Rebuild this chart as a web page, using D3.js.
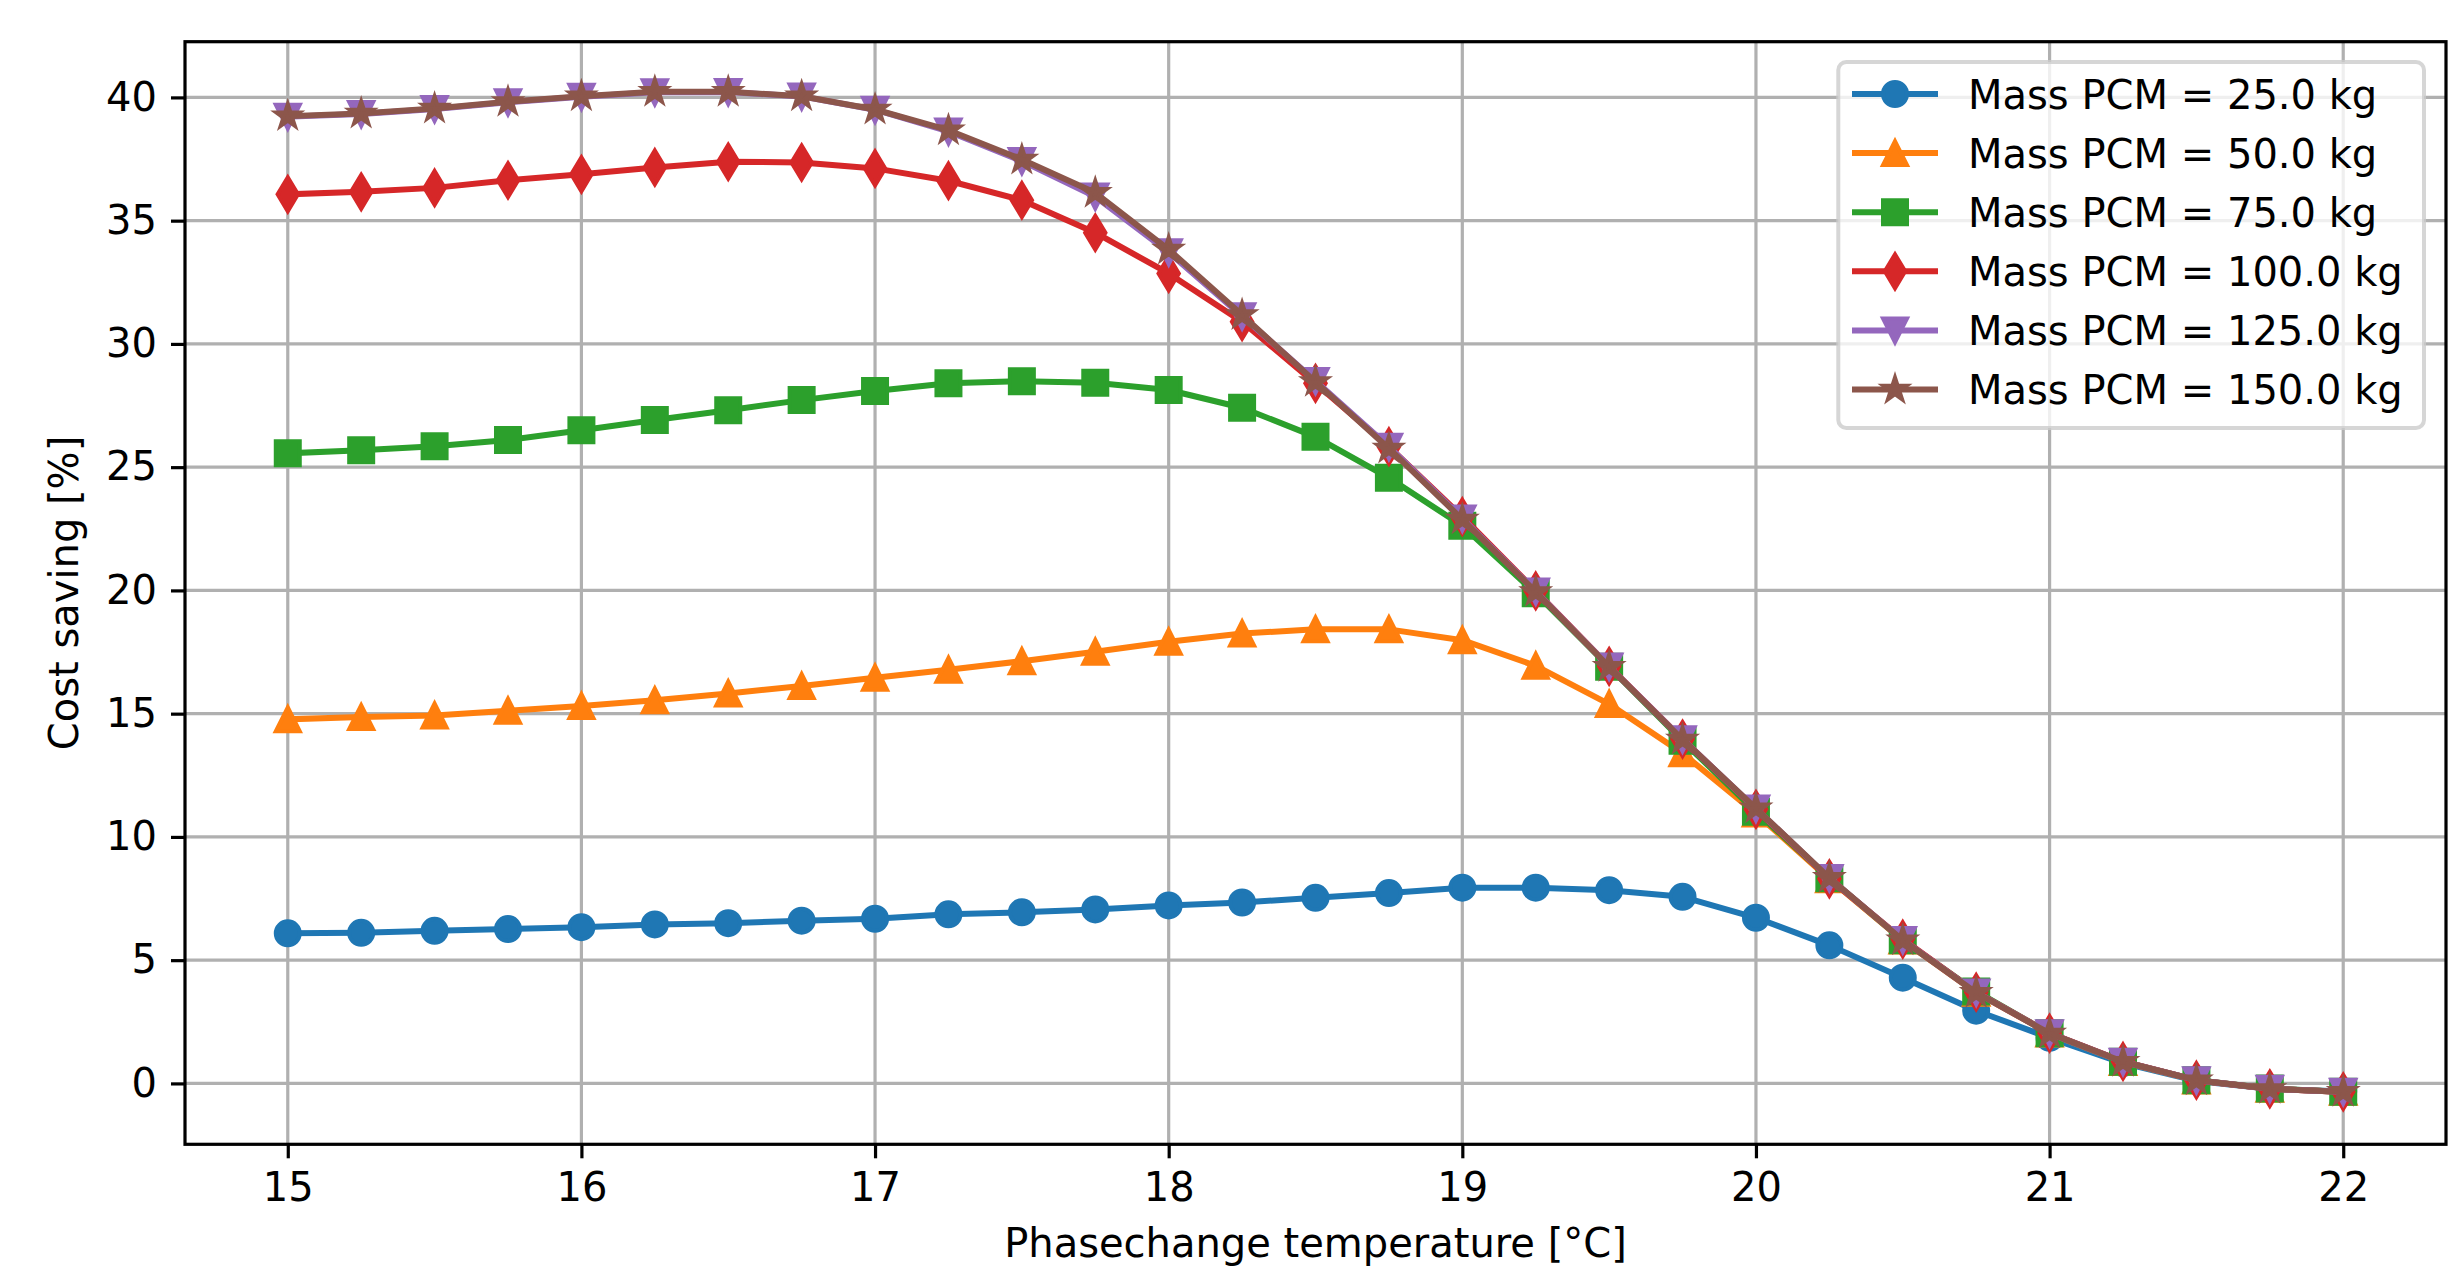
<!DOCTYPE html>
<html>
<head>
<meta charset="utf-8">
<script src="https://d3js.org/d3.v7.min.js"></script>
<style>
  body { margin: 0; background: #fff; }
  text { font-family: "DejaVu Sans", sans-serif; }
</style>
</head>
<body>
<div id="chart-area"></div>
<script>
// Data
var temps = [15, 15.25, 15.5, 15.75, 16, 16.25, 16.5, 16.75, 17, 17.25, 17.5, 17.75,
             18, 18.25, 18.5, 18.75, 19, 19.25, 19.5, 19.75, 20, 20.25, 20.5, 20.75,
             21, 21.25, 21.5, 21.75, 22];

var mass25  = [6.09, 6.11, 6.19, 6.26, 6.34, 6.45, 6.50, 6.60, 6.68, 6.86, 6.94, 7.06,
               7.22, 7.34, 7.53, 7.72, 7.94, 7.94, 7.84, 7.57, 6.72, 5.60, 4.29, 2.95,
               1.85, 0.82, 0.10, -0.22, -0.32];
var mass50  = [14.77, 14.86, 14.93, 15.12, 15.31, 15.54, 15.82, 16.12, 16.46, 16.78, 17.13, 17.51,
               17.92, 18.25, 18.42, 18.42, 17.98, 16.94, 15.39, 13.39, 10.95, 8.28, 5.80, 3.68,
               2.02, 0.87, 0.12, -0.22, -0.34];
var mass75  = [25.56, 25.69, 25.85, 26.10, 26.50, 26.91, 27.31, 27.72, 28.09, 28.40, 28.49, 28.42,
               28.13, 27.41, 26.23, 24.57, 22.62, 19.88, 16.90, 13.90, 11.02, 8.32, 5.81, 3.73,
               2.03, 0.88, 0.13, -0.21, -0.34];
var mass100 = [36.07, 36.17, 36.33, 36.64, 36.88, 37.16, 37.39, 37.36, 37.12, 36.62, 35.83, 34.51,
               32.86, 30.90, 28.40, 25.83, 22.99, 19.98, 16.92, 13.97, 11.12, 8.30, 5.85, 3.70,
               2.04, 0.89, 0.13, -0.22, -0.34];
var mass125 = [39.22, 39.33, 39.53, 39.80, 40.03, 40.21, 40.22, 40.04, 39.50, 38.62, 37.42, 35.98,
               33.72, 31.12, 28.50, 25.83, 22.92, 19.96, 16.91, 13.96, 11.15, 8.33, 5.82, 3.69,
               2.03, 0.88, 0.13, -0.22, -0.34];
var mass150 = [39.24, 39.35, 39.55, 39.82, 40.05, 40.23, 40.23, 40.05, 39.51, 38.67, 37.48, 36.13,
               33.83, 31.17, 28.46, 25.76, 22.88, 19.94, 16.90, 13.95, 11.16, 8.34, 5.81, 3.68,
               2.03, 0.88, 0.13, -0.22, -0.34];

var seriesLabels = ["Mass PCM = 25.0 kg", "Mass PCM = 50.0 kg", "Mass PCM = 75.0 kg",
                    "Mass PCM = 100.0 kg", "Mass PCM = 125.0 kg", "Mass PCM = 150.0 kg"];
var seriesValues = [mass25, mass50, mass75, mass100, mass125, mass150];
var seriesColors = ["#1f77b4", "#ff7f0e", "#2ca02c", "#d62728", "#9467bd", "#8c564b"];
var seriesMarkers = ["circle", "triangle-up", "square", "thin-diamond", "triangle-down", "star"];

var xTicks = [15, 16, 17, 18, 19, 20, 21, 22];
var yTicks = [0, 5, 10, 15, 20, 25, 30, 35, 40];

// 1pt in pixels
var pt = 4.0;

//Margins
var margin = { left: 185, right: 16, top: 41.7, bottom: 122.7 },
    W = 2462, H = 1267,
    width = W - margin.left - margin.right,
    height = H - margin.top - margin.bottom;

var svg = d3.select("#chart-area").append("svg")
    .attr("width", W)
    .attr("height", H);

var g = svg.append("g")
    .attr("transform", "translate(" + margin.left + "," + margin.top + ")");

// Scales
var x = d3.scaleLinear().domain([14.65, 22.35]).range([0, width]);
var y = d3.scaleLinear().domain([-2.47, 42.26]).range([height, 0]);

// Grid
g.append("g").selectAll("line").data(xTicks).enter().append("line")
    .attr("x1", function(d) { return x(d); })
    .attr("x2", function(d) { return x(d); })
    .attr("y1", 0).attr("y2", height)
    .attr("stroke", "#b0b0b0").attr("stroke-width", 0.8 * pt);
g.append("g").selectAll("line").data(yTicks).enter().append("line")
    .attr("y1", function(d) { return y(d); })
    .attr("y2", function(d) { return y(d); })
    .attr("x1", 0).attr("x2", width)
    .attr("stroke", "#b0b0b0").attr("stroke-width", 0.8 * pt);

// matplotlib-like marker shapes
function markerPath(shape, s) {
    var h = s / 2;
    switch (shape) {
        case "circle":
            return "M" + h + ",0A" + h + "," + h + " 0 1,1 " + (-h) + ",0A" + h + "," + h + " 0 1,1 " + h + ",0Z";
        case "triangle-up":
            return "M0," + (-h) + "L" + (-h) + "," + h + "L" + h + "," + h + "Z";
        case "triangle-down":
            return "M0," + h + "L" + (-h) + "," + (-h) + "L" + h + "," + (-h) + "Z";
        case "square":
            return "M" + (-h) + "," + (-h) + "H" + h + "V" + h + "H" + (-h) + "Z";
        case "thin-diamond":
            var dy = 0.7071 * s, dx = 0.6 * 0.7071 * s;
            return "M0," + (-dy) + "L" + dx + ",0L0," + dy + "L" + (-dx) + ",0Z";
        case "star":
            var p = [];
            for (var i = 0; i < 10; i++) {
                var r = i % 2 === 0 ? h : h * 0.381966;
                var a = -Math.PI / 2 + i * Math.PI / 5;
                p.push((r * Math.cos(a)).toFixed(2) + "," + (r * Math.sin(a)).toFixed(2));
            }
            return "M" + p.join("L") + "Z";
    }
}

var line = d3.line()
    .x(function(d) { return x(d[0]); })
    .y(function(d) { return y(d[1]); });

var msize = 6 * pt;

seriesValues.forEach(function(vals, k) {
    var pts = temps.map(function(t, i) { return [t, vals[i]]; });
    var sg = g.append("g");
    sg.append("path")
        .datum(pts)
        .attr("d", line)
        .attr("fill", "none")
        .attr("stroke", seriesColors[k])
        .attr("stroke-width", 1.5 * pt)
        .attr("stroke-linejoin", "round")
        .attr("stroke-linecap", "square");
    sg.selectAll(".mk").data(pts).enter().append("path")
        .attr("class", "mk")
        .attr("transform", function(d) { return "translate(" + x(d[0]) + "," + y(d[1]) + ")"; })
        .attr("d", markerPath(seriesMarkers[k], msize))
        .attr("fill", seriesColors[k])
        .attr("stroke", seriesColors[k])
        .attr("stroke-width", 1 * pt)
        .attr("stroke-linejoin", seriesMarkers[k] === "circle" ? "round" : "miter");
});

// Axes
var xAxisCall = d3.axisBottom(x).tickValues(xTicks).tickSize(3.5 * pt).tickPadding(3.5 * pt).tickSizeOuter(0);
var yAxisCall = d3.axisLeft(y).tickValues(yTicks).tickSize(3.5 * pt).tickPadding(3.5 * pt).tickSizeOuter(0);

var xAxis = g.append("g")
    .attr("transform", "translate(0," + height + ")")
    .call(xAxisCall);
var yAxis = g.append("g").call(yAxisCall);

[xAxis, yAxis].forEach(function(a) {
    a.select(".domain").remove();
    a.selectAll(".tick line").attr("stroke", "#000").attr("stroke-width", 0.8 * pt);
    a.selectAll(".tick text")
        .attr("fill", "#000")
        .style("font-size", "40px")
        .style("font-family", "'DejaVu Sans', sans-serif");
});

// Spines
g.append("rect")
    .attr("width", width).attr("height", height)
    .attr("fill", "none")
    .attr("stroke", "#000")
    .attr("stroke-width", 0.8 * pt);

// Axis labels
svg.append("text")
    .attr("x", margin.left + width / 2)
    .attr("y", 1257)
    .attr("text-anchor", "middle")
    .style("font-size", "40px")
    .text("Phasechange temperature [°C]");

svg.append("text")
    .attr("transform", "translate(77.5," + (margin.top + height / 2) + ") rotate(-90)")
    .attr("text-anchor", "middle")
    .style("font-size", "40px")
    .text("Cost saving [%]");

// Legend
var legend = svg.append("g");
legend.append("rect")
    .attr("x", 1838.3).attr("y", 62)
    .attr("width", 2424 - 1838.3).attr("height", 428 - 62)
    .attr("rx", 8).attr("ry", 8)
    .attr("fill", "#fff").attr("fill-opacity", 0.8)
    .attr("stroke", "#cccccc").attr("stroke-opacity", 0.8)
    .attr("stroke-width", 1 * pt);

seriesLabels.forEach(function(lab, k) {
    var cy = 94 + k * 59.1;
    var row = legend.append("g");
    row.append("line")
        .attr("x1", 1855).attr("x2", 1935)
        .attr("y1", cy).attr("y2", cy)
        .attr("stroke", seriesColors[k])
        .attr("stroke-width", 1.5 * pt)
        .attr("stroke-linecap", "square");
    row.append("path")
        .attr("transform", "translate(1895," + cy + ")")
        .attr("d", markerPath(seriesMarkers[k], msize))
        .attr("fill", seriesColors[k])
        .attr("stroke", seriesColors[k])
        .attr("stroke-width", 1 * pt)
        .attr("stroke-linejoin", seriesMarkers[k] === "circle" ? "round" : "miter");
    row.append("text")
        .attr("x", 1968)
        .attr("y", cy + 14.5)
        .style("font-size", "40px")
        .text(lab);
});
</script>
</body>
</html>
